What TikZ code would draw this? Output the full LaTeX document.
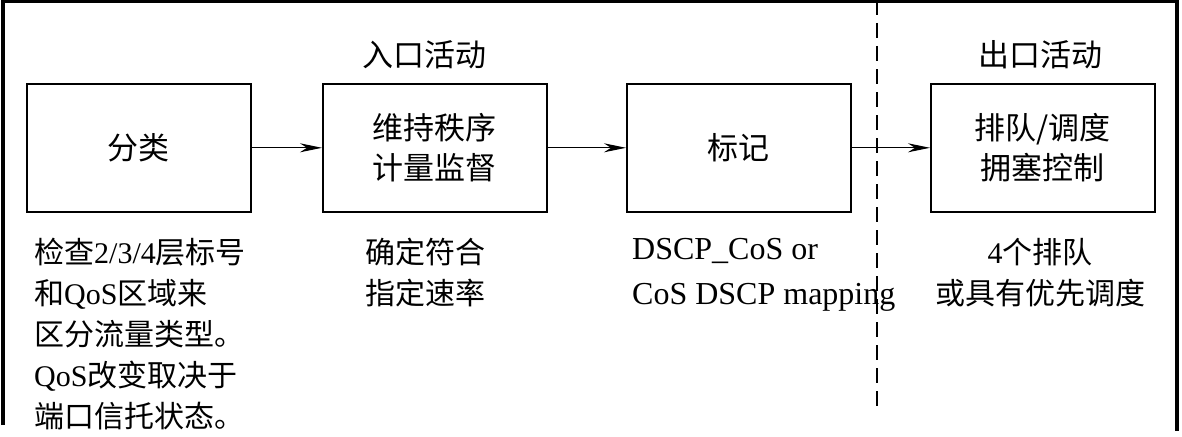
\documentclass[tikz,border=0pt]{standalone}
\usepackage{fontspec}
\setmainfont{Liberation Serif}
\newfontfamily\cjk{Noto Sans CJK SC}
\usetikzlibrary{arrows.meta}
\begin{document}
\begin{tikzpicture}[x=1pt,y=-1pt,
  blk/.style={draw,line width=1.6pt,minimum width=224pt,minimum height=128pt,anchor=north west,inner sep=0pt,align=center,font=\cjk\fontsize{31}{40}\selectfont},
  note/.style={inner sep=0pt,font=\fontsize{30}{41}\selectfont},
  head/.style={inner sep=0pt,font=\cjk\fontsize{31}{34}\selectfont},
  conn/.style={line width=1.3pt,-{Stealth[length=22pt,width=9pt,inset=7pt]}},
  frame/.style={line width=3.5pt}]
\useasboundingbox (0,0) rectangle (1182,436);
% frame
\coordinate (fbl) at (3,425);
\coordinate (ftl) at (3,1.5);
\coordinate (ftr) at (1177,1.5);
\coordinate (fbr) at (1177,431);
\draw[frame] (fbl) -- (ftl) -- (ftr) -- (fbr);
% dashed separator
\coordinate (dtop) at (877,0);
\coordinate (dbot) at (877,407);
\draw[line width=1.3pt,dash pattern=on 15pt off 8pt] (dtop) -- (dbot);
% headings
\node[head] (hin) at (424,55) {入口活动};
\node[head] (hout) at (1040,55) {出口活动};
% boxes
\node[blk] (b1) at (26,83) {分类};
\node[blk] (b2) at (322,83) {维持秩序\\计量监督};
\node[blk] (b3) at (626,83) {标记};
\node[blk] (b4) at (930,83) {排队/调度\\拥塞控制};
% connectors
\draw[conn] (b1.east) -- (b2.west);
\draw[conn] (b2.east) -- (b3.west);
\draw[conn] (b3.east) -- (b4.west);
% notes
\node[note,anchor=north west,align=left] (n1) at (34,238)
  {{\cjk 检查}2/3/4{\cjk 层标号}\\
   {\cjk 和}QoS{\cjk 区域来}\\
   {\cjk 区分流量类型。}\\
   QoS{\cjk 改变取决于}\\
   {\cjk 端口信托状态。}};
\node[note,anchor=north west,align=left] (n2) at (365,238)
  {{\cjk 确定符合}\\{\cjk 指定速率}};
\node[note,anchor=north west,align=left,font=\fontsize{32}{45}\selectfont] (n3) at (632,238)
  {DSCP\_CoS or\\CoS DSCP mapping};
\node[note,anchor=north,align=center] (n4) at (1040,238)
  {4{\cjk 个排队}\\{\cjk 或具有优先调度}};
\end{tikzpicture}
\end{document}
